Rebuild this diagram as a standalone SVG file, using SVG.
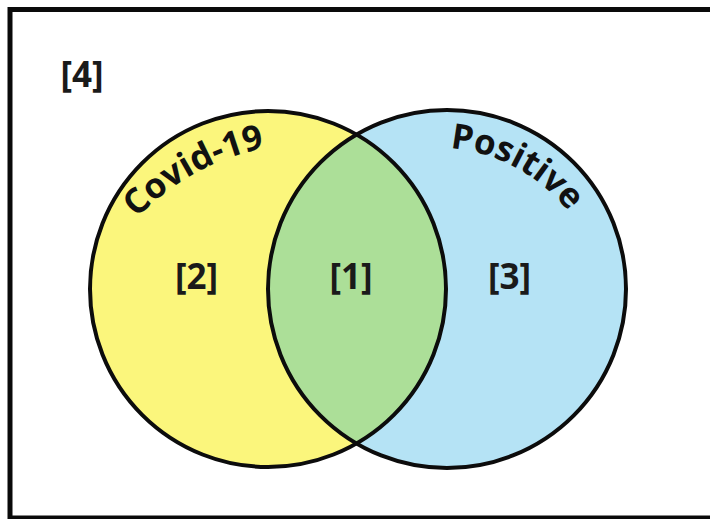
<svg xmlns="http://www.w3.org/2000/svg" width="710" height="519" viewBox="0 0 710 519">
  <defs>
    <style>
      .ring { fill: none; stroke: #0c0c0c; stroke-width: 4; }
      .lbl { font-family: "Open Sans", "Liberation Sans", sans-serif; font-weight: 700; font-size: 35px; fill: #1a1a1a; text-anchor: middle; }
      .arc { font-family: "Open Sans", "Liberation Sans", sans-serif; font-weight: 700; font-size: 35px; fill: #111; }
    </style>
    <path id="covidArc" d="M 137 218 A 240 240 0 0 1 345 146"/>
    <path id="positiveArc" d="M 450 148 A 170 170 0 0 1 605.3 319.1"/>
  </defs>
  <rect width="710" height="519" fill="#ffffff"/>
  <g id="frame">
    <rect x="10" y="9.5" width="720" height="508.5" fill="none" stroke="#0a0a0a" stroke-width="5"/>
  </g>
  <g id="circle-covid">
    <circle cx="268" cy="289" r="178" fill="#fbf67c"/>
  </g>
  <g id="circle-positive">
    <circle cx="447" cy="289" r="179" fill="#b5e3f5"/>
  </g>
  <g id="overlap">
    <path d="M 356.5 134.6 A 178 178 0 0 1 356.5 443.4 A 179 179 0 0 1 356.5 134.6 Z" fill="#acdf98"/>
  </g>
  <g id="outlines">
    <circle class="ring" cx="268" cy="289" r="178"/>
    <circle class="ring" cx="447" cy="289" r="179"/>
  </g>
  <g id="connectors"/>
  <g id="labels">
    <text class="lbl" x="82" y="87">[4]</text>
    <text class="lbl" x="196.5" y="289">[2]</text>
    <text class="lbl" x="351" y="289">[1]</text>
    <text class="lbl" x="509.5" y="289">[3]</text>
    <text class="arc"><textPath href="#covidArc">Covid-19</textPath></text>
    <text class="arc"><textPath href="#positiveArc">Positive</textPath></text>
  </g>
</svg>
